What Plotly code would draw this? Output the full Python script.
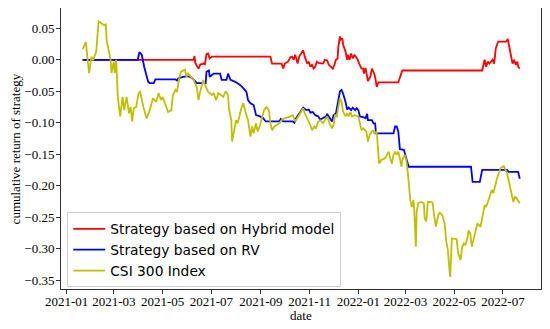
import plotly.graph_objects as go

# ---------------- data ----------------
csi_dates = [
    "2021-01-21","2021-01-25","2021-01-29","2021-02-01","2021-02-03","2021-02-07","2021-02-10","2021-02-17",
    "2021-02-19","2021-02-20","2021-02-25","2021-02-26","2021-03-01","2021-03-02","2021-03-04","2021-03-06",
    "2021-03-09","2021-03-12","2021-03-14","2021-03-17","2021-03-20","2021-03-22","2021-03-24","2021-03-26",
    "2021-03-29","2021-04-01","2021-04-03","2021-04-07","2021-04-11","2021-04-15","2021-04-19","2021-04-23",
    "2021-04-26","2021-04-29","2021-05-01","2021-05-05","2021-05-08","2021-05-12","2021-05-14","2021-05-17",
    "2021-05-19","2021-05-22","2021-05-24","2021-05-29","2021-05-31","2021-06-02","2021-06-07","2021-06-09",
    "2021-06-13","2021-06-15","2021-06-17","2021-06-21","2021-06-23","2021-06-27","2021-07-02","2021-07-04",
    "2021-07-07","2021-07-10","2021-07-13","2021-07-16","2021-07-19","2021-07-22","2021-07-23","2021-07-26",
    "2021-07-27","2021-07-30","2021-08-01","2021-08-03","2021-08-05","2021-08-08","2021-08-10","2021-08-12",
    "2021-08-14","2021-08-16","2021-08-19","2021-08-21","2021-08-23","2021-08-26","2021-08-28","2021-08-31",
    "2021-09-02","2021-09-05","2021-09-08","2021-09-11","2021-09-13","2021-09-15","2021-09-18","2021-09-24",
    "2021-09-27","2021-10-01","2021-10-08","2021-10-11","2021-10-14","2021-10-18","2021-10-21","2021-10-24",
    "2021-10-26","2021-10-29","2021-11-02","2021-11-04","2021-11-07","2021-11-09","2021-11-12","2021-11-14",
    "2021-11-18","2021-11-20","2021-11-23","2021-11-26","2021-11-29","2021-12-01","2021-12-03","2021-12-05",
    "2021-12-07","2021-12-09","2021-12-11","2021-12-13","2021-12-16","2021-12-18","2021-12-20","2021-12-22",
    "2021-12-24","2021-12-27","2022-01-01","2022-01-03","2022-01-05","2022-01-07","2022-01-11","2022-01-13",
    "2022-01-15","2022-01-19","2022-01-21","2022-01-24","2022-01-27","2022-01-30","2022-02-03","2022-02-06",
    "2022-02-08","2022-02-10","2022-02-12","2022-02-14","2022-02-16","2022-02-18","2022-02-20","2022-02-22",
    "2022-02-24","2022-02-25","2022-02-28","2022-03-02","2022-03-04","2022-03-07","2022-03-09","2022-03-11",
    "2022-03-12","2022-03-14","2022-03-15","2022-03-17","2022-03-21","2022-03-24","2022-03-25","2022-03-27",
    "2022-03-29","2022-04-01","2022-04-04","2022-04-06","2022-04-08","2022-04-11","2022-04-13","2022-04-16",
    "2022-04-19","2022-04-21","2022-04-23","2022-04-25","2022-04-26","2022-04-28","2022-05-01","2022-05-04",
    "2022-05-06","2022-05-09","2022-05-11","2022-05-13","2022-05-15","2022-05-17","2022-05-19","2022-05-21",
    "2022-05-23","2022-05-25","2022-05-27","2022-05-30","2022-06-03","2022-06-05","2022-06-08","2022-06-10",
    "2022-06-13","2022-06-15","2022-06-17","2022-06-19","2022-06-21","2022-06-23","2022-06-25","2022-06-28",
    "2022-07-02","2022-07-04","2022-07-06","2022-07-08","2022-07-10","2022-07-12","2022-07-14","2022-07-16",
    "2022-07-18","2022-07-22",
]
csi_values = [
    0.017, 0.028, -0.021, 0.005, -0.001, 0.013, 0.061, 0.055,
    0.056, 0.031, 0.000, -0.021, -0.003, -0.021, 0.000, -0.059,
    -0.090, -0.059, -0.080, -0.059, -0.085, -0.075, -0.098, -0.077,
    -0.075, -0.053, -0.051, -0.075, -0.093, -0.080, -0.061, -0.067,
    -0.053, -0.064, -0.059, -0.072, -0.083, -0.080, -0.056, -0.048,
    -0.051, -0.029, -0.019, -0.016, -0.027, -0.022, -0.029, -0.032,
    -0.045, -0.064, -0.051, -0.032, -0.040, -0.051, -0.056, -0.053,
    -0.064, -0.053, -0.056, -0.059, -0.050, -0.056, -0.077, -0.096,
    -0.130, -0.106, -0.096, -0.101, -0.090, -0.075, -0.069, -0.080,
    -0.088, -0.096, -0.122, -0.106, -0.117, -0.101, -0.114, -0.104,
    -0.096, -0.080, -0.075, -0.080, -0.101, -0.112, -0.106, -0.101,
    -0.096, -0.093, -0.090, -0.088, -0.098, -0.090, -0.083, -0.077,
    -0.085, -0.093, -0.104, -0.112, -0.106, -0.109, -0.098, -0.096,
    -0.101, -0.096, -0.090, -0.101, -0.109, -0.104, -0.088, -0.090,
    -0.072, -0.061, -0.067, -0.083, -0.090, -0.085, -0.090, -0.083,
    -0.090, -0.088, -0.090, -0.104, -0.112, -0.109, -0.114, -0.130,
    -0.120, -0.112, -0.117, -0.114, -0.165, -0.159, -0.157, -0.151,
    -0.146, -0.157, -0.165, -0.151, -0.146, -0.151, -0.146, -0.157,
    -0.170, -0.159, -0.151, -0.159, -0.180, -0.223, -0.234, -0.223,
    -0.241, -0.297, -0.241, -0.228, -0.226, -0.228, -0.252, -0.257,
    -0.226, -0.226, -0.227, -0.249, -0.265, -0.247, -0.243, -0.247,
    -0.260, -0.289, -0.302, -0.334, -0.345, -0.284, -0.284, -0.285,
    -0.308, -0.318, -0.297, -0.292, -0.294, -0.286, -0.271, -0.276,
    -0.297, -0.286, -0.276, -0.260, -0.265, -0.249, -0.231, -0.234,
    -0.223, -0.215, -0.207, -0.212, -0.199, -0.191, -0.183, -0.172,
    -0.169, -0.175, -0.180, -0.191, -0.202, -0.215, -0.226, -0.218,
    -0.220, -0.228,
]

rv_dates = [
    "2021-01-21","2021-03-31","2021-04-02","2021-04-05","2021-04-08","2021-04-10","2021-04-13","2021-04-15",
    "2021-04-20","2021-04-22","2021-05-17","2021-05-19","2021-05-21","2021-05-27","2021-06-02","2021-06-07",
    "2021-06-13","2021-06-24","2021-06-25","2021-06-28","2021-06-29","2021-07-04","2021-07-12","2021-07-14",
    "2021-07-20","2021-07-22","2021-07-25","2021-07-31","2021-08-06","2021-08-10","2021-08-14","2021-08-16",
    "2021-08-19","2021-08-23","2021-08-26","2021-08-31","2021-09-04","2021-09-07","2021-09-24","2021-09-26",
    "2021-09-29","2021-10-11","2021-10-13","2021-10-15","2021-10-18","2021-10-22","2021-10-24","2021-10-28",
    "2021-10-31","2021-11-02","2021-11-05","2021-11-08","2021-11-12","2021-11-14","2021-11-18","2021-11-22",
    "2021-11-23","2021-11-26","2021-11-29","2021-12-01","2021-12-04","2021-12-07","2021-12-09","2021-12-11",
    "2021-12-13","2021-12-16","2021-12-18","2021-12-20","2021-12-23","2021-12-25","2021-12-28","2021-12-30",
    "2022-01-01","2022-01-03","2022-01-07","2022-01-10","2022-01-12","2022-01-13","2022-01-18","2022-01-20",
    "2022-01-22","2022-01-23","2022-02-14","2022-02-16","2022-02-18","2022-02-20","2022-02-21","2022-02-22",
    "2022-02-27","2022-03-01","2022-03-03","2022-03-05","2022-05-22","2022-05-24","2022-06-02","2022-06-05",
    "2022-07-06","2022-07-08","2022-07-20","2022-07-22",
]
rv_values = [
    0.000, 0.000, 0.012, 0.008, -0.011, -0.022, -0.035, -0.037,
    -0.037, -0.031, -0.031, -0.033, -0.029, -0.027, -0.026, -0.029,
    -0.037, -0.037, -0.019, -0.017, -0.027, -0.022, -0.022, -0.032,
    -0.032, -0.022, -0.032, -0.035, -0.040, -0.045, -0.051, -0.064,
    -0.069, -0.072, -0.088, -0.090, -0.093, -0.098, -0.098, -0.094,
    -0.098, -0.098, -0.100, -0.093, -0.088, -0.080, -0.076, -0.080,
    -0.079, -0.084, -0.083, -0.088, -0.090, -0.095, -0.093, -0.090,
    -0.086, -0.093, -0.098, -0.088, -0.085, -0.064, -0.050, -0.048,
    -0.054, -0.067, -0.079, -0.076, -0.080, -0.076, -0.080, -0.077,
    -0.080, -0.090, -0.091, -0.093, -0.086, -0.096, -0.096, -0.101,
    -0.101, -0.117, -0.117, -0.106, -0.106, -0.114, -0.128, -0.142,
    -0.143, -0.151, -0.162, -0.170, -0.170, -0.194, -0.194, -0.175,
    -0.175, -0.178, -0.178, -0.189,
]

hybrid_dates = [
    "2021-01-21","2021-06-09","2021-06-10","2021-06-11","2021-06-14","2021-06-15","2021-06-17","2021-06-21",
    "2021-06-23","2021-06-25","2021-06-27","2021-06-29","2021-07-02","2021-09-13","2021-09-15","2021-09-27",
    "2021-09-29","2021-10-01","2021-10-05","2021-10-08","2021-10-10","2021-10-12","2021-10-14","2021-10-15",
    "2021-10-17","2021-10-19","2021-10-22","2021-10-24","2021-10-26","2021-10-29","2021-10-31","2021-11-02",
    "2021-11-04","2021-11-06","2021-11-08","2021-11-10","2021-11-12","2021-11-18","2021-11-20","2021-11-23",
    "2021-11-25","2021-11-27","2021-11-30","2021-12-02","2021-12-04","2021-12-06","2021-12-07","2021-12-09",
    "2021-12-10","2021-12-12","2021-12-13","2021-12-16","2021-12-18","2021-12-19","2021-12-21","2021-12-23",
    "2021-12-25","2021-12-27","2021-12-29","2021-12-31","2022-01-02","2022-01-05","2022-01-07","2022-01-08",
    "2022-01-10","2022-01-13","2022-01-16","2022-01-18","2022-01-20","2022-01-22","2022-01-24","2022-01-26",
    "2022-02-20","2022-02-25","2022-06-05","2022-06-07","2022-06-08","2022-06-10","2022-06-12","2022-06-14",
    "2022-06-16","2022-06-18","2022-06-20","2022-06-22","2022-06-25","2022-07-05","2022-07-07","2022-07-09",
    "2022-07-11","2022-07-13","2022-07-15","2022-07-17","2022-07-19","2022-07-20","2022-07-22",
]
hybrid_values = [
    0.000, 0.000, 0.006, -0.005, -0.012, -0.014, -0.008, -0.006,
    -0.007, 0.009, 0.010, 0.002, 0.005, 0.005, -0.006, -0.006,
    -0.014, -0.006, -0.003, 0.004, 0.005, 0.000, 0.008, 0.004,
    -0.006, 0.005, 0.010, 0.015, 0.005, -0.006, -0.003, -0.011,
    -0.008, -0.014, -0.011, -0.003, -0.005, -0.006, 0.000, -0.001,
    -0.008, -0.011, -0.014, -0.008, 0.000, 0.002, 0.021, 0.037,
    0.032, 0.034, 0.024, 0.013, 0.000, 0.008, 0.000, 0.010,
    0.002, 0.008, 0.005, 0.001, -0.006, -0.014, -0.014, -0.022,
    -0.013, -0.034, -0.027, -0.014, -0.019, -0.027, -0.043, -0.036,
    -0.036, -0.017, -0.017, -0.006, 0.000, -0.011, -0.003, -0.006,
    -0.003, 0.000, -0.006, 0.018, 0.029, 0.029, 0.033, 0.018,
    0.008, -0.006, 0.000, -0.008, -0.003, -0.011, -0.014,
]

series_names = ["Strategy based on Hybrid model", "Strategy based on RV", "CSI 300 Index"]
y_ticks = [0.05, 0.00, -0.05, -0.10, -0.15, -0.20, -0.25, -0.30, -0.35]
x_ticks = ["2021-01-01", "2021-03-01", "2021-05-01", "2021-07-01", "2021-09-01",
           "2021-11-01", "2022-01-01", "2022-03-01", "2022-05-01", "2022-07-01"]
x_tick_labels = ["2021-01", "2021-03", "2021-05", "2021-07", "2021-09",
                 "2021-11", "2022-01", "2022-03", "2022-05", "2022-07"]
x_title = "date"
y_title = "cumulative return of strategy"

# ---------------- figure ----------------
fig = go.Figure()
fig.add_trace(go.Scatter(x=hybrid_dates, y=hybrid_values, mode="lines", name=series_names[0],
                         line=dict(color="#ff0000", width=1.8)))
fig.add_trace(go.Scatter(x=rv_dates, y=rv_values, mode="lines", name=series_names[1],
                         line=dict(color="#0000ff", width=1.8)))
fig.add_trace(go.Scatter(x=csi_dates, y=csi_values, mode="lines", name=series_names[2],
                         line=dict(color="#bfbf00", width=1.8)))

serif = "'Liberation Serif', 'Times New Roman', serif"
# The page body adds an 8px offset, so the figure is 8px smaller than the window.
fig.update_layout(
    template="none",
    width=542, height=321,
    margin=dict(l=53, r=9, t=0, b=40),
    paper_bgcolor="white", plot_bgcolor="white",
    font=dict(family=serif, size=13, color="black"),
    legend=dict(
        x=0.013, y=0.006, xanchor="left", yanchor="bottom",
        bgcolor="rgba(255,255,255,0.8)", bordercolor="#cccccc", borderwidth=1,
        font=dict(family="'DejaVu Sans', sans-serif", size=13.8, color="black"),
        itemwidth=32,
    ),
    showlegend=True,
    annotations=[
        dict(text=x_title, xref="paper", yref="paper", x=0.5, y=-0.096,
             xanchor="center", yanchor="middle", showarrow=False,
             font=dict(family=serif, size=13, color="black")),
        dict(text=y_title, xref="paper", yref="paper", x=-0.094, y=0.5,
             xanchor="center", yanchor="middle", showarrow=False, textangle=-90,
             font=dict(family=serif, size=13, color="black")),
    ],
)
fig.update_xaxes(
    type="date", automargin=False,
    range=["2020-12-24 22:00", "2022-08-17 14:00"],
    tickvals=x_ticks, ticktext=x_tick_labels,
    showgrid=False, zeroline=False,
    showline=True, mirror=True, linecolor="#333333", linewidth=1,
    ticks="outside", ticklen=4, tickcolor="#333333", tickwidth=1,
    tickfont=dict(family=serif, size=13, color="black"),
    ticklabelstandoff=-4,
)
fig.update_yaxes(
    automargin=False,
    range=[-0.3643, 0.0823],
    tickvals=y_ticks, tickformat=".2f",
    showgrid=False, zeroline=False,
    showline=True, mirror=True, linecolor="#333333", linewidth=1,
    ticks="outside", ticklen=4, tickcolor="#333333", tickwidth=1,
    tickfont=dict(family=serif, size=13, color="black"),
    ticklabelstandoff=-1,
)

fig.write_html("out.html")
